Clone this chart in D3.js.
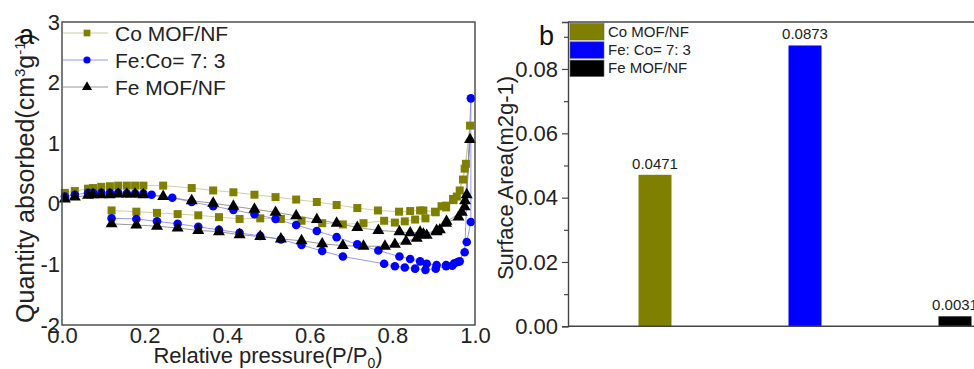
<!DOCTYPE html>
<html><head><meta charset="utf-8">
<script src="https://cdn.jsdelivr.net/npm/d3@7"></script>
<style>
body{margin:0;background:#fff;}
svg{display:block;font-family:"Liberation Sans",Arial,sans-serif;}
</style>
</head><body>
<svg id="c" width="974" height="369"></svg>
<script>
// ---------- Data: panel a (N2 isotherms, [P/P0, quantity]) ----------
const seriesNames = ["Co MOF/NF", "Fe:Co= 7: 3", "Fe MOF/NF"];
const coMOF = [
  [0.12,-0.11],[0.18,-0.13],[0.23,-0.15],[0.28,-0.17],[0.33,-0.19],[0.38,-0.22],[0.43,-0.25],[0.48,-0.24],
  [0.53,-0.25],[0.58,-0.28],[0.63,-0.32],[0.68,-0.34],[0.73,-0.32],[0.78,-0.28],[0.806,-0.31],[0.83,-0.29],
  [0.855,-0.26],[0.88,-0.24],[0.905,-0.14],[0.93,-0.06],[0.948,0.06],[0.963,0.22],[0.975,0.58],[0.988,1.29],
  [0.978,0.66],[0.971,0.40],[0.956,0.12],[0.947,0.08],[0.93,-0.03],[0.919,-0.04],[0.903,-0.13],[0.875,-0.11],
  [0.867,-0.11],[0.843,-0.12],[0.816,-0.13],[0.765,-0.11],[0.715,-0.07],[0.665,-0.02],[0.617,0.03],[0.567,0.07],
  [0.517,0.11],[0.466,0.15],[0.415,0.19],[0.366,0.22],[0.314,0.26],[0.245,0.30],[0.197,0.30],[0.177,0.30],
  [0.157,0.30],[0.136,0.30],[0.116,0.29],[0.095,0.28],[0.075,0.26],[0.063,0.25],[0.031,0.21],[0.007,0.18]
];
const feCo73 = [
  [0.12,-0.24],[0.18,-0.25],[0.23,-0.29],[0.28,-0.33],[0.33,-0.38],[0.38,-0.43],[0.43,-0.48],[0.48,-0.53],
  [0.53,-0.59],[0.58,-0.68],[0.63,-0.78],[0.68,-0.87],[0.78,-0.99],[0.806,-1.03],[0.83,-1.05],[0.855,-1.07],
  [0.88,-1.09],[0.905,-1.07],[0.93,-1.03],[0.945,-1.02],[0.958,-0.96],[0.975,-0.80],[0.99,1.74],
  [0.99,-0.30],[0.98,-0.63],[0.963,-0.95],[0.95,-0.98],[0.93,-1.01],[0.907,-1.01],[0.883,-0.99],[0.867,-0.95],
  [0.843,-0.91],[0.817,-0.87],[0.766,-0.77],[0.715,-0.67],[0.665,-0.55],[0.617,-0.45],[0.567,-0.35],[0.517,-0.25],
  [0.466,-0.17],[0.415,-0.10],[0.366,-0.04],[0.314,0.03],[0.267,0.10],[0.217,0.15],[0.197,0.17],[0.177,0.17],
  [0.157,0.17],[0.136,0.18],[0.116,0.18],[0.095,0.18],[0.075,0.18],[0.063,0.18],[0.031,0.15],[0.007,0.12]
];
const feMOF = [
  [0.12,-0.33],[0.18,-0.35],[0.23,-0.37],[0.28,-0.40],[0.33,-0.44],[0.38,-0.46],[0.43,-0.51],[0.48,-0.54],
  [0.53,-0.58],[0.58,-0.61],[0.63,-0.66],[0.68,-0.69],[0.73,-0.70],[0.782,-0.70],[0.806,-0.67],[0.833,-0.62],
  [0.859,-0.57],[0.875,-0.51],[0.883,-0.52],[0.907,-0.46],[0.93,-0.32],[0.96,-0.22],[0.975,-0.05],[0.988,1.06],
  [0.98,0.15],[0.976,0.05],[0.968,-0.14],[0.931,-0.29],[0.915,-0.43],[0.907,-0.44],[0.875,-0.50],[0.867,-0.47],
  [0.843,-0.48],[0.817,-0.46],[0.766,-0.44],[0.715,-0.39],[0.665,-0.32],[0.617,-0.26],[0.567,-0.20],[0.517,-0.14],
  [0.466,-0.09],[0.415,-0.04],[0.366,0.01],[0.314,0.05],[0.245,0.12],[0.197,0.15],[0.177,0.16],[0.157,0.16],
  [0.136,0.16],[0.116,0.15],[0.095,0.15],[0.075,0.15],[0.063,0.14],[0.031,0.11],[0.007,0.08]
];
const xTicksA = [0, 0.2, 0.4, 0.6, 0.8, 1.0];
const yTicksA = [-2, -1, 0, 1, 2, 3];

// ---------- Data: panel b (surface area bars) ----------
const barCategories = ["Co MOF/NF", "Fe: Co= 7: 3", "Fe MOF/NF"];
const barValues = [0.0471, 0.0873, 0.0031];
const barLabels = ["0.0471", "0.0873", "0.0031"];
const yTicksB = [0, 0.02, 0.04, 0.06, 0.08];
const yMinorB = [0.01, 0.03, 0.05, 0.07, 0.09];

// ---------- Styles ----------
const markerColors = ["#808000", "#0000ff", "#000000"];
const lineColors = ["#c9c995", "#8c8cf0", "#8a8a8a"];
const markerTypes = [d3.symbolSquare, d3.symbolCircle, d3.symbolTriangle];
const markerSizes = [64, 58, 62];
const barColors = ["#808000", "#0000ff", "#000000"];
const axisColor = "#444";

const svg = d3.select("#c");

// ================= Panel a =================
const xA = d3.scaleLinear().domain([0, 1]).range([62, 475]);
const yA = d3.scaleLinear().domain([-2, 3]).range([325, 22]);
const gA = svg.append("g");

const seriesData = [coMOF, feCo73, feMOF];
const line = d3.line().x(d => xA(d[0])).y(d => yA(d[1]));

seriesData.forEach((s, i) => {
  gA.append("path").datum(s).attr("d", line)
    .attr("fill", "none").attr("stroke", lineColors[i]).attr("stroke-width", 0.9);
});
seriesData.forEach((s, i) => {
  gA.append("g").selectAll("path").data(s).join("path")
    .attr("transform", d => `translate(${xA(d[0])},${yA(d[1])})`)
    .attr("d", d3.symbol().type(markerTypes[i]).size(markerSizes[i]))
    .attr("fill", markerColors[i]);
});

// frame
gA.append("rect").attr("x", xA(0)).attr("y", yA(3))
  .attr("width", xA(1) - xA(0)).attr("height", yA(-2) - yA(3))
  .attr("fill", "none").attr("stroke", axisColor).attr("stroke-width", 1.4);

// axes
const axLA = gA.append("g").attr("transform", `translate(${xA(0)},0)`)
  .call(d3.axisLeft(yA).tickValues(yTicksA).tickSize(0).tickPadding(2).tickFormat(d => String(d)));
const axBA = gA.append("g").attr("transform", `translate(0,${yA(-2)})`)
  .call(d3.axisBottom(xA).tickValues(xTicksA).tickSize(0).tickPadding(2).tickFormat(d3.format(".1f")));
[axLA, axBA].forEach(a => {
  a.select(".domain").remove();
  a.selectAll("text").attr("font-size", 22).attr("fill", "#222").attr("font-family", "Liberation Sans, Arial, sans-serif");
});

// legend a
const legA = gA.append("g");
seriesNames.forEach((n, i) => {
  const yy = 33 + i * 27;
  legA.append("line").attr("x1", 63).attr("x2", 108).attr("y1", yy).attr("y2", yy)
    .attr("stroke", lineColors[i]).attr("stroke-width", 0.9);
  legA.append("path").attr("transform", `translate(87,${yy})`)
    .attr("d", d3.symbol().type(markerTypes[i]).size(markerSizes[i] * 0.7))
    .attr("fill", markerColors[i]);
  legA.append("text").attr("x", 115).attr("y", yy).attr("dy", "0.36em")
    .attr("font-size", 21).attr("fill", "#222").text(n);
});

// titles a
const yTitleA = gA.append("text").attr("transform", "translate(34,178) rotate(-90)")
  .attr("text-anchor", "middle").attr("font-size", 25).attr("fill", "#222");
yTitleA.append("tspan").text("Quantity absorbed(cm");
yTitleA.append("tspan").attr("dy", -9).attr("font-size", 15).text("3");
yTitleA.append("tspan").attr("dy", 9).text("g");
yTitleA.append("tspan").attr("dy", -9).attr("font-size", 15).text("-1");
yTitleA.append("tspan").attr("dy", 9).text(")");

const xTitleA = gA.append("text").attr("x", 268).attr("y", 363)
  .attr("text-anchor", "middle").attr("font-size", 22).attr("fill", "#222");
xTitleA.append("tspan").text("Relative pressure(P/P");
xTitleA.append("tspan").attr("dy", 5).attr("font-size", 14).text("0");
xTitleA.append("tspan").attr("dy", -5).text(")");

gA.append("text").attr("x", 19).attr("y", 44).attr("font-size", 27).attr("fill", "#111").text("a");

// ================= Panel b =================
const yB = d3.scaleLinear().domain([0, 0.0946]).range([326.3, 22]);
const xB = d3.scaleBand().domain(barCategories).range([580, 1030]).paddingInner(0.78).paddingOuter(0.39);
const gB = svg.append("g");

gB.selectAll("rect.bar").data(barValues).join("rect").attr("class", "bar")
  .attr("x", (d, i) => xB(barCategories[i]))
  .attr("y", d => yB(d))
  .attr("width", xB.bandwidth())
  .attr("height", d => yB(0) - yB(d))
  .attr("fill", (d, i) => barColors[i]);

gB.selectAll("text.bl").data(barValues).join("text").attr("class", "bl")
  .attr("x", (d, i) => xB(barCategories[i]) + xB.bandwidth() / 2)
  .attr("y", d => yB(d) - 6)
  .attr("text-anchor", "middle").attr("font-size", 15).attr("fill", "#222")
  .text((d, i) => barLabels[i]);

// frame lines (top & bottom extend beyond crop)
gB.append("line").attr("x1", 568).attr("x2", 1000).attr("y1", yB(0)).attr("y2", yB(0))
  .attr("stroke", axisColor).attr("stroke-width", 1.4);
gB.append("line").attr("x1", 568).attr("x2", 1000).attr("y1", 22).attr("y2", 22)
  .attr("stroke", axisColor).attr("stroke-width", 1.4);

const axLB = gB.append("g").attr("transform", "translate(568,0)")
  .call(d3.axisLeft(yB).tickValues(yTicksB).tickSize(6).tickPadding(4).tickFormat(d3.format(".2f")));
axLB.select(".domain").attr("stroke", axisColor).attr("stroke-width", 1.4);
axLB.selectAll(".tick line").attr("stroke", axisColor).attr("stroke-width", 1.2);
axLB.selectAll("text").attr("font-size", 22).attr("fill", "#222").attr("font-family", "Liberation Sans, Arial, sans-serif");
const axMB = gB.append("g").attr("transform", "translate(568,0)")
  .call(d3.axisLeft(yB).tickValues(yMinorB).tickSize(4).tickFormat(""));
axMB.select(".domain").remove();
axMB.selectAll(".tick line").attr("stroke", axisColor).attr("stroke-width", 1.2);

// legend b
barCategories.forEach((n, i) => {
  const yy = 23.5 + i * 18.3;
  gB.append("rect").attr("x", 570).attr("y", yy).attr("width", 34).attr("height", 16.5)
    .attr("fill", barColors[i]).attr("stroke", "#666").attr("stroke-width", 0.6);
  gB.append("text").attr("x", 608).attr("y", yy + 13.2).attr("font-size", 15).attr("fill", "#222").text(n);
});

gB.append("text").attr("transform", "translate(513,178) rotate(-90)")
  .attr("text-anchor", "middle").attr("font-size", 22).attr("fill", "#222").text("Surface Area(m2g-1)");

gB.append("text").attr("x", 539).attr("y", 45).attr("font-size", 27).attr("fill", "#111").text("b");
</script>
</body></html>
